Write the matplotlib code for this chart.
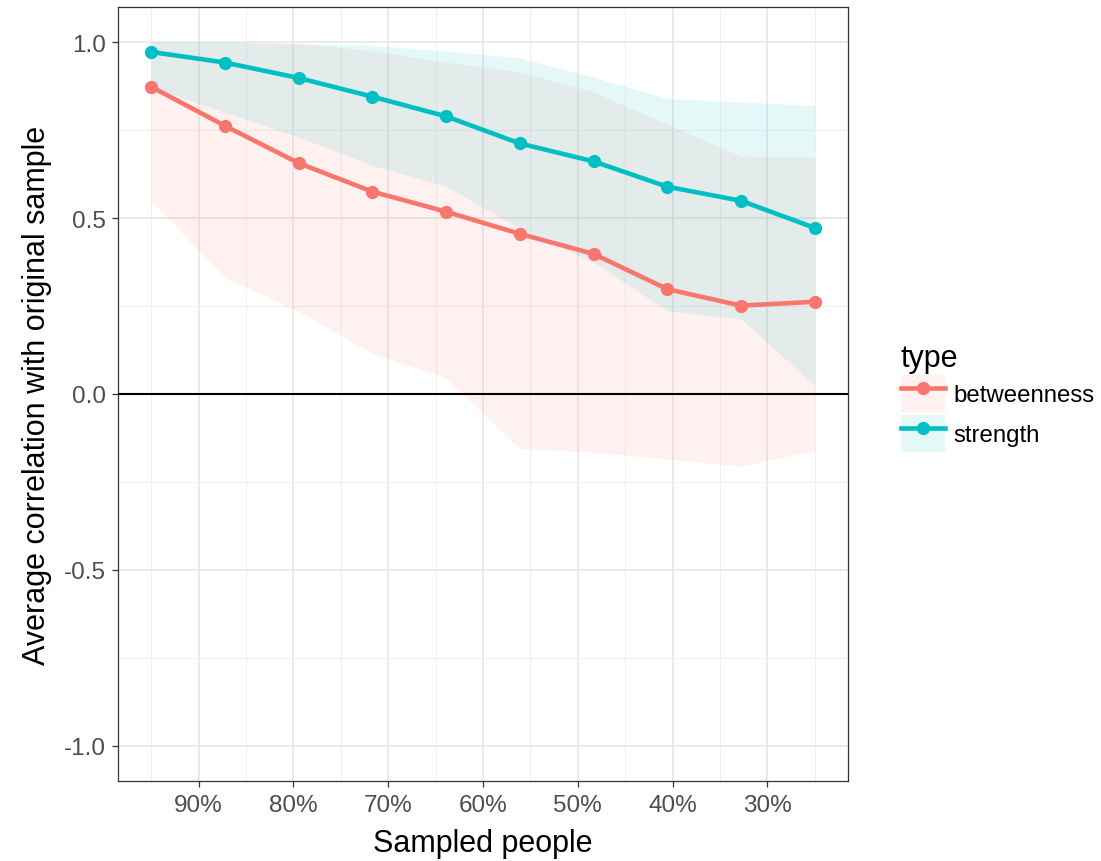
import matplotlib.pyplot as plt
from matplotlib.lines import Line2D
from matplotlib.patches import Patch
from matplotlib.ticker import FixedLocator, PercentFormatter

plt.rcParams['font.family'] = ['Liberation Sans', 'DejaVu Sans']

# share of people kept in each subsample
sampled = [0.95, 0.8722, 0.7944, 0.7167, 0.6389, 0.5611, 0.4833, 0.4056, 0.3278, 0.25]

betweenness_mean = [0.873, 0.762, 0.656, 0.575, 0.518, 0.455, 0.398, 0.298, 0.251, 0.262]
betweenness_low = [0.55, 0.33, 0.235, 0.115, 0.045, -0.155, -0.165, -0.185, -0.205, -0.16]
betweenness_high = [1.0, 1.0, 0.997, 0.975, 0.943, 0.915, 0.858, 0.767, 0.676, 0.673]

strength_mean = [0.972, 0.942, 0.898, 0.845, 0.789, 0.712, 0.661, 0.589, 0.549, 0.472]
strength_low = [0.87, 0.80, 0.73, 0.65, 0.59, 0.47, 0.375, 0.236, 0.213, 0.023]
strength_high = [1.0, 1.0, 0.995, 0.99, 0.975, 0.955, 0.90, 0.84, 0.83, 0.82]

types = ['betweenness', 'strength']
colors = {'betweenness': '#F8766D', 'strength': '#00BFC4'}
series = {
    'betweenness': (betweenness_mean, betweenness_low, betweenness_high),
    'strength': (strength_mean, strength_low, strength_high),
}

fig = plt.figure(figsize=(11.01, 8.62), dpi=100)
ax = fig.add_axes([0.1072, 0.0928, 0.663, 0.898])

ribbon_alpha = 0.1
handles = []
for t in types:
    mean, low, high = series[t]
    ax.fill_between(sampled, low, high, color=colors[t], alpha=ribbon_alpha, lw=0, zorder=2)
for t in types:
    mean, low, high = series[t]
    ax.plot(sampled, mean, color=colors[t], lw=3.3, marker='o', markersize=8.5, zorder=4)
    handles.append((Patch(facecolor=colors[t], alpha=ribbon_alpha, edgecolor='none'),
                    Line2D([], [], color=colors[t], lw=3.3, marker='o', markersize=8.5)))

ax.axhline(0, color='black', lw=1.5, zorder=3)

ax.set_xlim(0.985, 0.215)
ax.set_ylim(-1.1, 1.1)
ax.xaxis.set_major_locator(FixedLocator([0.9, 0.8, 0.7, 0.6, 0.5, 0.4, 0.3]))
ax.xaxis.set_minor_locator(FixedLocator([0.95, 0.85, 0.75, 0.65, 0.55, 0.45, 0.35, 0.25]))
ax.xaxis.set_major_formatter(PercentFormatter(1.0, decimals=0))
ax.yaxis.set_major_locator(FixedLocator([-1.0, -0.5, 0.0, 0.5, 1.0]))
ax.yaxis.set_minor_locator(FixedLocator([-0.75, -0.25, 0.25, 0.75]))
ax.set_yticklabels(['-1.0', '-0.5', '0.0', '0.5', '1.0'])

ax.grid(True, which='major', color='#E8E8E8', lw=1.2, zorder=0)
ax.grid(True, which='minor', color='#F0F0F0', lw=0.7, zorder=0)
ax.set_axisbelow(True)
for s in ax.spines.values():
    s.set_color('#333333')
    s.set_linewidth(0.9)

ax.tick_params(which='major', length=4, width=0.9, color='#333333',
               labelsize=17.5, labelcolor='#4D4D4D', pad=5)
ax.tick_params(which='minor', length=0)

ax.set_xlabel('Sampled people', fontsize=22, labelpad=9)
ax.set_ylabel('Average correlation with original sample', fontsize=22, labelpad=8)

leg = fig.legend(handles, types, loc='center left', bbox_to_anchor=(0.803, 0.538),
                 frameon=False, title='type', fontsize=17.3, title_fontsize=22,
                 handlelength=1.85, handleheight=2.0, labelspacing=0.1,
                 handletextpad=0.35, borderaxespad=0.3, alignment='left')

fig.savefig('out.png', dpi=100)
